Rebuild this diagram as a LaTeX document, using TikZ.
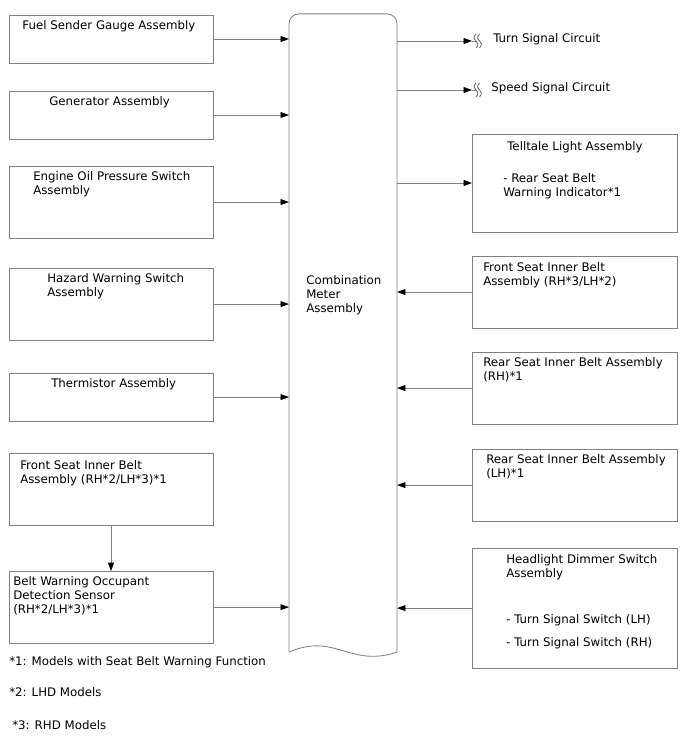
\documentclass[tikz,border=0pt]{standalone}
\usepackage{fontspec}
\setmainfont{DejaVu Sans}
\usepackage{tikz}
\usetikzlibrary{
  positioning,
  arrows.meta
}
\definecolor{linegray}{HTML}{808080}

\begin{document}
\begin{tikzpicture}[
  x=0.025cm, y=-0.025cm,
  font=\fontsize{8.4}{10}\selectfont,
  box/.style={
    rectangle,
    draw=linegray,
    line width=0.6pt,
    minimum width=5.1cm,
    minimum height=1.2cm,
    inner sep=0pt,
    outer sep=0pt
  },
  tallbox/.style={
    box,
    minimum height=1.8cm
  },
  rbox/.style={
    box,
    minimum width=5.125cm,
    minimum height=1.8cm
  },
  lbl/.style={
    anchor=north west,
    inner sep=0pt,
    align=left
  },
  arrow/.style={
    -{Triangle[length=6pt,width=4.2pt,black]},
    line width=0.6pt,
    draw=linegray
  },
  wire/.style={
    line width=0.6pt,
    draw=linegray
  },
  wavebreak/.pic={
    \draw[linegray!80!black, line width=0.6pt] (-1,-7) .. controls (-4,-4) and (-3,-1) .. (-1,0) .. controls (1,1) and (2,4) .. (-1,7);
    \draw[linegray!80!black, line width=0.6pt] (2.5,-7) .. controls (-0.5,-4) and (0.5,-1) .. (2.5,0) .. controls (4.5,1) and (5.5,4) .. (2.5,7);
  }
]
\useasboundingbox (0,0) rectangle (688,755);

% Combination meter
\node[minimum width=2.7cm, minimum height=15.95cm, inner sep=0pt, outer sep=0pt] (meter) at (343,333) {};
\draw[wire, rounded corners=7pt] (meter.south west) -- (meter.north west) -- (meter.north east) -- (meter.south east);
\draw[wire] (meter.south west) .. controls +(46,-20) and +(-47,16) .. (meter.south east);
\node[lbl] (meterlbl) at (306,275) {Combination\\Meter\\Assembly};

% Left column
\node[box] (fuel) at (111,39) {};
\node[box, below=0.7cm of fuel] (gen) {};
\node[tallbox, below=0.675cm of gen] (oil) {};
\node[tallbox, below=0.75cm of oil] (hazard) {};
\node[box, below=0.825cm of hazard] (therm) {};
\node[tallbox, below=0.8cm of therm] (frontl) {};
\node[tallbox, below=1.15cm of frontl] (occup) {};

\node[lbl, below right=0.14cm and 0.33cm of fuel.north west] (fuellbl) {Fuel Sender Gauge Assembly};
\node[lbl, below right=0.14cm and 1.0cm of gen.north west] (genlbl) {Generator Assembly};
\node[lbl, below right=0.12cm and 0.6cm of oil.north west] (oillbl) {Engine Oil Pressure Switch\\Assembly};
\node[lbl, below right=0.125cm and 0.95cm of hazard.north west] (hazardlbl) {Hazard Warning Switch\\Assembly};
\node[lbl, below right=0.125cm and 1.05cm of therm.north west] (thermlbl) {Thermistor Assembly};
\node[lbl, below right=0.175cm and 0.275cm of frontl.north west] (frontllbl) {Front Seat Inner Belt\\Assembly (RH*2/LH*3)*1};
\node[lbl, below right=0.125cm and 0.1cm of occup.north west] (occuplbl) {Belt Warning Occupant\\Detection Sensor\\(RH*2/LH*3)*1};

% Right column
\node[rbox, minimum height=2.45cm] (tell) at (574.5,183) {};
\node[rbox, below=0.6cm of tell] (frontr) {};
\node[rbox, below=0.6cm of frontr] (rearrh) {};
\node[rbox, below=0.625cm of rearrh] (rearlh) {};
\node[rbox, minimum height=3.0cm, below=0.675cm of rearlh] (head) {};

\node[lbl, below right=0.175cm and 0.875cm of tell.north west] (telllbl) {Telltale Light Assembly};
\node[lbl, below right=0.975cm and 0.775cm of tell.north west] (tellitem) {- Rear Seat Belt\\Warning Indicator*1};
\node[lbl, below right=0.15cm and 0.275cm of frontr.north west] (frontrlbl) {Front Seat Inner Belt\\Assembly (RH*3/LH*2)};
\node[lbl, below right=0.125cm and 0.275cm of rearrh.north west] (rearrhlbl) {Rear Seat Inner Belt Assembly\\(RH)*1};
\node[lbl, below right=0.125cm and 0.35cm of rearlh.north west] (rearlhlbl) {Rear Seat Inner Belt Assembly\\(LH)*1};
\node[lbl, below right=0.15cm and 0.85cm of head.north west] (headlbl) {Headlight Dimmer Switch\\Assembly\\[23pt]- Turn Signal Switch (LH)\\[6.3pt]- Turn Signal Switch (RH)};

% Output circuits
\coordinate (turntip) at (472,41);
\coordinate (speedtip) at (472,90);
\node[lbl] (turnlbl) at (493,33) {Turn Signal Circuit};
\node[lbl] (speedlbl) at (491,82) {Speed Signal Circuit};

% Notes
\node[lbl] (note1) at (9,656) {*1: Models with Seat Belt Warning Function};
\node[lbl] (note2) at (9,687) {*2: LHD Models};
\node[lbl] (note3) at (12,720) {*3: RHD Models};

% Connections
\foreach \src in {fuel, gen, oil, hazard, therm, occup}
  \draw[arrow] (\src.east) -- (\src.east -| meter.west);
\foreach \src in {frontr, rearrh, rearlh, head}
  \draw[arrow] (\src.west) -- (\src.west -| meter.east);
\draw[arrow] (meter.east |- tell.west) -- (tell.west);
\draw[arrow] (frontl.south) -- (occup.north);

\draw[arrow] (meter.east |- turntip) -- (turntip);
\draw[wire] (turntip) -- ++(5,0) pic {wavebreak};
\draw[arrow] (meter.east |- speedtip) -- (speedtip);
\draw[wire] (speedtip) -- ++(5,0) pic {wavebreak};

\end{tikzpicture}
\end{document}
